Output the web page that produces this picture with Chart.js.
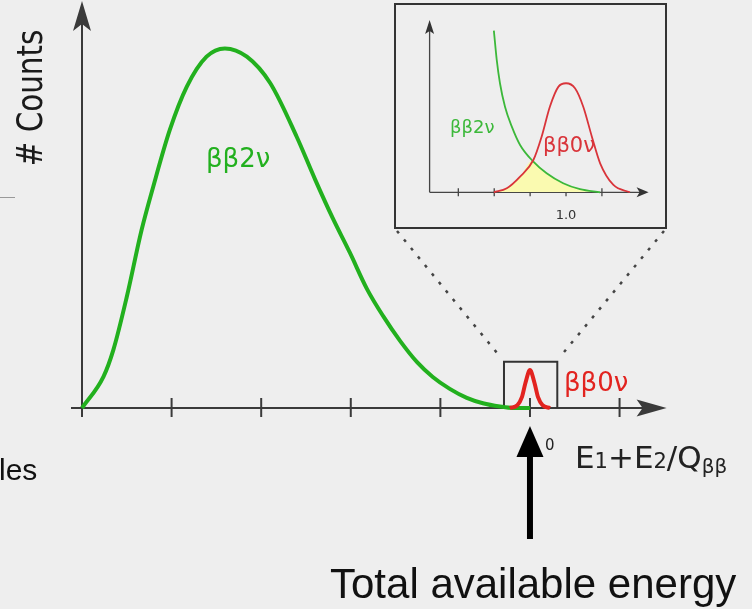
<!DOCTYPE html>
<html>
<head>
<meta charset="utf-8">
<script src="https://cdn.jsdelivr.net/npm/chart.js@4.4.1/dist/chart.umd.min.js"></script>
<style>
  body { margin: 0; background: #eeeeee; }
  #wrap { position: relative; width: 752px; height: 609px; overflow: hidden; }
  #main { position: absolute; left: 0; top: 0; }
  #inset { position: absolute; left: 394px; top: 3px; }
</style>
</head>
<body>
<div id="wrap">
  <canvas id="main" width="752" height="609"></canvas>
  <canvas id="inset" width="273" height="226"></canvas>
</div>
<script>
// espectro ββ2ν del panel grande (x en unidades de Qββ, y normalizado al máximo)
const espectro2nuX = [0, 0.048, 0.070, 0.100, 0.133, 0.159, 0.196, 0.234, 0.278, 0.319, 0.368, 0.420, 0.479, 0.520, 0.560, 0.598, 0.636, 0.672, 0.710, 0.748, 0.783, 0.821, 0.859, 0.895, 0.933, 0.962, 1.0];
const espectro2nuY = [0, 0.087, 0.161, 0.308, 0.493, 0.613, 0.770, 0.890, 0.973, 0.996, 0.973, 0.900, 0.752, 0.634, 0.525, 0.430, 0.330, 0.255, 0.186, 0.127, 0.086, 0.053, 0.028, 0.013, 0.004, 0, 0];

// pico ββ0ν en Qββ
const pico0nuX = [0.955, 0.972, 0.982, 0.990, 1.0, 1.010, 1.018, 1.028, 1.045];
const pico0nuY = [0, 0.008, 0.030, 0.070, 0.105, 0.070, 0.030, 0.008, 0];

const ticksPrincipal = [0, 0.2, 0.4, 0.6, 0.8, 1.0, 1.2];
const zoomRango = [0.942, 1.061];
const zoomAlto = 0.128;

// ampliación (inset)
const inset2nuX = [0.799, 0.807, 0.816, 0.830, 0.849, 0.872, 0.909, 0.946, 0.992, 1.039, 1.095];
const inset2nuY = [1.483, 1.214, 1.0, 0.785, 0.602, 0.434, 0.281, 0.174, 0.083, 0.028, 0];
const inset0nuX = [0.799, 0.835, 0.872, 0.909, 0.932, 0.955, 0.979, 1.0, 1.025, 1.048, 1.072, 1.095, 1.132, 1.178];
const inset0nuY = [0, 0.037, 0.144, 0.296, 0.510, 0.785, 0.969, 1.0, 0.954, 0.785, 0.510, 0.266, 0.067, 0];
const solapeX = [0.799, 0.835, 0.872, 0.905, 0.946, 0.992, 1.039, 1.095];
const solapeY = [0, 0.037, 0.144, 0.288, 0.174, 0.083, 0.028, 0];
const ticksInset = [0.7, 0.8, 0.9, 1.0, 1.1];

const puntos = (xs, ys) => xs.map((x, i) => ({ x: x, y: ys[i] }));

function flecha(ctx, tx, ty, dx, dy, largo, medio, muesca) {
    const px = -dy, py = dx;
    const bx = tx - dx * largo, by = ty - dy * largo;
    ctx.beginPath();
    ctx.moveTo(tx, ty);
    ctx.lineTo(bx + px * medio, by + py * medio);
    ctx.lineTo(tx - dx * (largo - muesca), ty - dy * (largo - muesca));
    ctx.lineTo(bx - px * medio, by - py * medio);
    ctx.closePath();
    ctx.fill();
}

const ejesPrincipal = {
    id: 'ejesPrincipal',
    beforeDatasetsDraw(chart) {
        const { ctx, scales: { x, y } } = chart;
        const x0 = x.getPixelForValue(0);
        const y0 = y.getPixelForValue(0);
        ctx.save();
        ctx.strokeStyle = '#3a3a3a';
        ctx.fillStyle = '#3a3a3a';
        ctx.lineWidth = 2;

        // eje x
        ctx.beginPath();
        ctx.moveTo(x0 - 11, y0);
        ctx.lineTo(x.right - 20, y0);
        ctx.stroke();
        flecha(ctx, x.right, y0, 1, 0, 30, 8.5, 6);

        // eje y
        ctx.beginPath();
        ctx.moveTo(x0, y0 + 9);
        ctx.lineTo(x0, y.top + 20);
        ctx.stroke();
        flecha(ctx, x0, y.top + 1, 0, -1, 30, 9, 7);

        ticksPrincipal.forEach(t => {
            const px = x.getPixelForValue(t);
            ctx.beginPath();
            ctx.moveTo(px, y0 - 10);
            ctx.lineTo(px, y0 + 9);
            ctx.stroke();
        });

        // recuadro de la zona ampliada
        const bl = x.getPixelForValue(zoomRango[0]);
        const br = x.getPixelForValue(zoomRango[1]);
        const bt = y.getPixelForValue(zoomAlto);
        ctx.strokeStyle = '#333';
        ctx.beginPath();
        ctx.moveTo(bl, y0);
        ctx.lineTo(bl, bt);
        ctx.lineTo(br, bt);
        ctx.lineTo(br, y0);
        ctx.stroke();

        // líneas punteadas hacia el inset
        ctx.setLineDash([3, 8]);
        ctx.lineWidth = 2.5;
        ctx.strokeStyle = '#444';
        ctx.beginPath();
        ctx.moveTo(397, 231);
        ctx.lineTo(bl - 3, bt - 4);
        ctx.moveTo(664, 231);
        ctx.lineTo(br + 2, bt - 4);
        ctx.stroke();
        ctx.setLineDash([]);

        // línea gris suelta a la izquierda
        ctx.strokeStyle = '#999';
        ctx.lineWidth = 1;
        ctx.beginPath();
        ctx.moveTo(0, 197.5);
        ctx.lineTo(15, 197.5);
        ctx.stroke();
        ctx.restore();
    },
    afterDraw(chart) {
        const { ctx, scales: { x, y } } = chart;
        const xq = x.getPixelForValue(1.0);
        ctx.save();

        // etiqueta eje y
        ctx.fillStyle = '#1a1a1a';
        ctx.font = '35px "DejaVu Sans"';
        ctx.translate(42, 98);
        ctx.rotate(-Math.PI / 2);
        ctx.scale(0.84, 1);
        ctx.textAlign = 'center';
        ctx.fillText('# Counts', 0, 0);
        ctx.setTransform(1, 0, 0, 1, 0, 0);

        // etiquetas de las curvas
        ctx.textAlign = 'left';
        ctx.font = '26px "DejaVu Sans"';
        ctx.fillStyle = '#22b01e';
        ctx.fillText('ββ2ν', 206, 167);
        ctx.fillStyle = '#e2231f';
        ctx.fillText('ββ0ν', 564, 391);

        // "0" del tick
        ctx.fillStyle = '#222';
        ctx.font = '15px "DejaVu Sans"';
        ctx.fillText('0', 545, 450);

        // título del eje x: E1+E2/Qββ
        const partes = [['E', 31, 0], ['1', 21, 0], ['+', 31, 0], ['E', 31, 0], ['2', 21, 0], ['/', 31, 0], ['Q', 31, 0], ['ββ', 20, 5]];
        let cx = 575;
        partes.forEach(p => {
            ctx.font = p[1] + 'px "DejaVu Sans"';
            ctx.fillText(p[0], cx, 468 + p[2]);
            cx += ctx.measureText(p[0]).width;
        });

        // flecha grande
        ctx.fillStyle = '#000';
        ctx.beginPath();
        ctx.moveTo(xq, 426);
        ctx.lineTo(xq + 13.5, 457);
        ctx.lineTo(xq - 13.5, 457);
        ctx.closePath();
        ctx.fill();
        ctx.fillRect(xq - 3, 455, 6, 84);

        // textos de la diapositiva
        ctx.fillStyle = '#111';
        ctx.font = '42px "Liberation Sans"';
        ctx.fillText('Total available energy', 330, 598);
        ctx.font = '30px "Liberation Sans"';
        ctx.fillText('les', -1, 480);
        ctx.restore();
    }
};

const ejesInset = {
    id: 'ejesInset',
    beforeDatasetsDraw(chart) {
        const { ctx, scales: { x, y } } = chart;
        const x0 = x.left;
        const y0 = y.getPixelForValue(0);
        ctx.save();
        ctx.strokeStyle = '#444';
        ctx.fillStyle = '#333';
        ctx.lineWidth = 1.3;
        ctx.beginPath();
        ctx.moveTo(x0, y0);
        ctx.lineTo(x.right - 8, y0);
        ctx.moveTo(x0, y0);
        ctx.lineTo(x0, y.top + 8);
        ctx.stroke();
        flecha(ctx, x.right, y0, 1, 0, 12, 5, 3);
        flecha(ctx, x0, y.top, 0, -1, 14, 4.5, 3);
        ticksInset.forEach(t => {
            const px = x.getPixelForValue(t);
            ctx.beginPath();
            ctx.moveTo(px, y0 - 4);
            ctx.lineTo(px, y0 + 4);
            ctx.stroke();
        });
        ctx.restore();
    },
    afterDraw(chart) {
        const { ctx, scales: { x } } = chart;
        ctx.save();
        ctx.strokeStyle = '#333';
        ctx.lineWidth = 2;
        ctx.strokeRect(1, 1, chart.width - 2, chart.height - 2);
        ctx.textAlign = 'center';
        ctx.fillStyle = '#333';
        ctx.font = '13px "DejaVu Sans"';
        ctx.fillText('1.0', x.getPixelForValue(1.0), 216);
        ctx.textAlign = 'left';
        ctx.font = '18px "DejaVu Sans"';
        ctx.fillStyle = '#3cb83a';
        ctx.fillText('ββ2ν', 56, 130);
        ctx.font = '21px "DejaVu Sans"';
        ctx.fillStyle = '#d9343a';
        ctx.fillText('ββ0ν', 149, 149);
        ctx.restore();
    }
};

const opcionesBase = (padding, xmin, xmax, ymax) => ({
    responsive: false,
    animation: false,
    devicePixelRatio: 1,
    layout: { padding: padding },
    scales: {
        x: { type: 'linear', display: false, min: xmin, max: xmax },
        y: { display: false, min: 0, max: ymax }
    },
    plugins: { legend: { display: false }, tooltip: { enabled: false } }
});

new Chart(document.getElementById('main'), {
    type: 'line',
    data: {
        datasets: [{
            data: puntos(pico0nuX, pico0nuY),
            borderColor: '#e2231f',
            borderWidth: 4,
            pointRadius: 0,
            cubicInterpolationMode: 'monotone',
            clip: false
        }, {
            data: puntos(espectro2nuX, espectro2nuY),
            borderColor: '#22b01e',
            borderWidth: 4,
            pointRadius: 0,
            cubicInterpolationMode: 'monotone',
            clip: false
        }]
    },
    options: opcionesBase({ left: 82, right: 85.4, top: 0, bottom: 201 }, 0, 1.305, 1.13),
    plugins: [ejesPrincipal]
});

new Chart(document.getElementById('inset'), {
    type: 'line',
    data: {
        datasets: [{
            data: puntos(inset0nuX, inset0nuY),
            borderColor: '#d9343a',
            borderWidth: 1.8,
            pointRadius: 0,
            cubicInterpolationMode: 'monotone',
            clip: false
        }, {
            data: puntos(inset2nuX, inset2nuY),
            borderColor: '#3cb83a',
            borderWidth: 1.8,
            pointRadius: 0,
            cubicInterpolationMode: 'monotone',
            clip: false
        }, {
            data: puntos(solapeX, solapeY),
            borderWidth: 0,
            backgroundColor: '#fafab0',
            fill: 'origin',
            pointRadius: 0,
            cubicInterpolationMode: 'monotone'
        }]
    },
    options: opcionesBase({ left: 35.6, right: 18.4, top: 17, bottom: 36.7 }, 0.62, 1.23, 1.58),
    plugins: [ejesInset]
});
</script>
</body>
</html>
